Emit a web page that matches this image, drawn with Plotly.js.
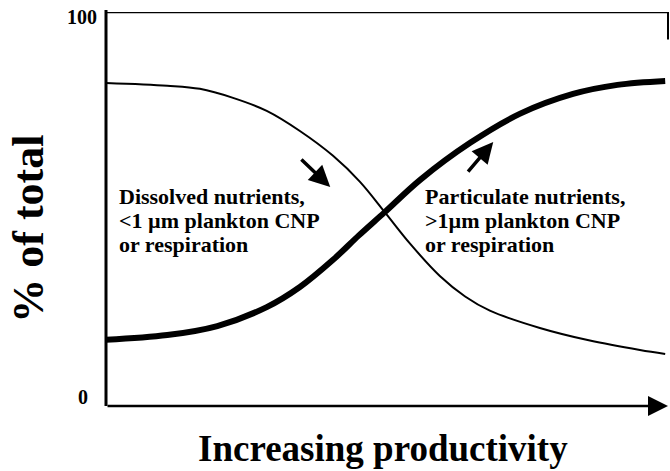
<!DOCTYPE html>
<html>
<head>
<meta charset="utf-8">
<script src="https://cdn.plot.ly/plotly-3.0.1.min.js"></script>
<style>html,body{margin:0;padding:0;background:#fff;}#chart{width:670px;height:471px;}</style>
</head>
<body>
<div id="chart"></div>
<script>
// Conceptual axis: x = productivity (0-100, arbitrary), y = % of total
const dissolvedX = [0, 10.9, 16.7, 22.6, 28.6, 34.5, 40.4, 45.2, 49.6, 54.1, 59.4, 63.9, 68.3, 77.2, 86.1, 95, 99.5];
const dissolvedY = [82.0, 81.3, 80.5, 78.2, 74.9, 69.8, 63.5, 56.9, 49.2, 41.2, 33.0, 27.8, 24.2, 19.8, 16.6, 14.2, 13.2];
const particulateX = [0, 10.9, 19.8, 28.6, 34.5, 40.4, 45, 49.6, 55.9, 64.8, 73.7, 83.1, 91, 99.5];
const particulateY = [16.8, 18.0, 20.3, 25.1, 30.2, 37.1, 43.3, 49.2, 57.4, 66.8, 74.2, 79.2, 81.5, 82.5];
const yTickValues = [2.3, 98.7];
const yTickLabels = ["0", "100"];
const labelDissolvedLines = ["Dissolved nutrients,", "<1 µm plankton CNP", "or respiration"];
const labelParticulateLines = ["Particulate nutrients,", ">1µm plankton CNP", "or respiration"];
const labelLineY = [53.3, 47.2, 41.1];
const xTitle = "Increasing productivity";
const yTitle = "% of total";

const serif = "Liberation Serif, Times New Roman, serif";
const esc = s => s.replace(/&/g, "&amp;").replace(/</g, "&lt;").replace(/>/g, "&gt;");

const traces = [
  {x: dissolvedX, y: dissolvedY, mode: "lines", line: {color: "#000", width: 2, shape: "spline", smoothing: 1}, hoverinfo: "skip"},
  {x: particulateX, y: particulateY, mode: "lines", line: {color: "#000", width: 6, shape: "spline", smoothing: 1}, hoverinfo: "skip"}
];

const annotations = [
  {xref: "paper", yref: "y", x: -0.028, y: yTickValues[0], text: "<b>" + yTickLabels[0] + "</b>", showarrow: false, xanchor: "right", yanchor: "middle", font: {family: serif, size: 20, color: "#000"}},
  {xref: "paper", yref: "y", x: -0.013, y: yTickValues[1], text: "<b>" + yTickLabels[1] + "</b>", showarrow: false, xanchor: "right", yanchor: "middle", font: {family: serif, size: 20, color: "#000"}},
  // direction arrows
  {xref: "x", yref: "y", axref: "x", ayref: "y", x: 39.9, y: 55.6, ax: 34.5, ay: 62.9, text: "", showarrow: true, arrowhead: 2, arrowsize: 1.2, arrowwidth: 3.5, arrowcolor: "#000"},
  {xref: "x", yref: "y", axref: "x", ayref: "y", x: 68.9, y: 67.0, ax: 64.2, ay: 59.1, text: "", showarrow: true, arrowhead: 2, arrowsize: 1.2, arrowwidth: 3.5, arrowcolor: "#000"},
  // x axis arrow
  {xref: "x", yref: "y", axref: "x", ayref: "y", x: 100, y: 0, ax: 0, ay: 0, text: "", showarrow: true, arrowhead: 2, arrowsize: 1.6, arrowwidth: 2.5, arrowcolor: "#000"},
  // axis titles
  {xref: "paper", yref: "paper", x: 0.493, y: -0.107, text: "<b>" + xTitle + "</b>", showarrow: false, xanchor: "center", yanchor: "middle", font: {family: serif, size: 37, color: "#000"}},
  {xref: "paper", yref: "paper", x: -0.137, y: 0.45, text: "<b>" + yTitle + "</b>", showarrow: false, textangle: -90, xanchor: "center", yanchor: "middle", font: {family: serif, size: 44, color: "#000"}}
];
labelDissolvedLines.forEach((t, i) => annotations.push({xref: "x", yref: "y", x: 2.0, y: labelLineY[i], text: "<b>" + esc(t) + "</b>", showarrow: false, xanchor: "left", yanchor: "middle", font: {family: serif, size: 22, color: "#000"}}));
labelParticulateLines.forEach((t, i) => annotations.push({xref: "x", yref: "y", x: 56.4, y: labelLineY[i], text: "<b>" + esc(t) + "</b>", showarrow: false, xanchor: "left", yanchor: "middle", font: {family: serif, size: 22, color: "#000"}}));

const shapes = [
  {type: "line", xref: "paper", yref: "y", x0: 0, x1: 1, y0: 100, y1: 100, line: {color: "#000", width: 2.5}},
  {type: "line", xref: "paper", yref: "y", x0: 1, x1: 1, y0: 100, y1: 93, line: {color: "#000", width: 2}},
  {type: "line", xref: "paper", yref: "paper", x0: 0, x1: 0, y0: 0, y1: 1.005, line: {color: "#000", width: 3}}
];

const layout = {
  width: 670, height: 471,
  margin: {l: 106, r: 2, t: 12, b: 65},
  paper_bgcolor: "#fff", plot_bgcolor: "#fff",
  showlegend: false,
  xaxis: {range: [0, 100], showgrid: false, zeroline: false, showline: false, showticklabels: false, ticks: ""},
  yaxis: {range: [0, 100], showgrid: false, zeroline: false, showline: false, showticklabels: false, ticks: ""},
  annotations: annotations,
  shapes: shapes
};

Plotly.newPlot("chart", traces, layout, {displayModeBar: false, staticPlot: true});
</script>
</body>
</html>
